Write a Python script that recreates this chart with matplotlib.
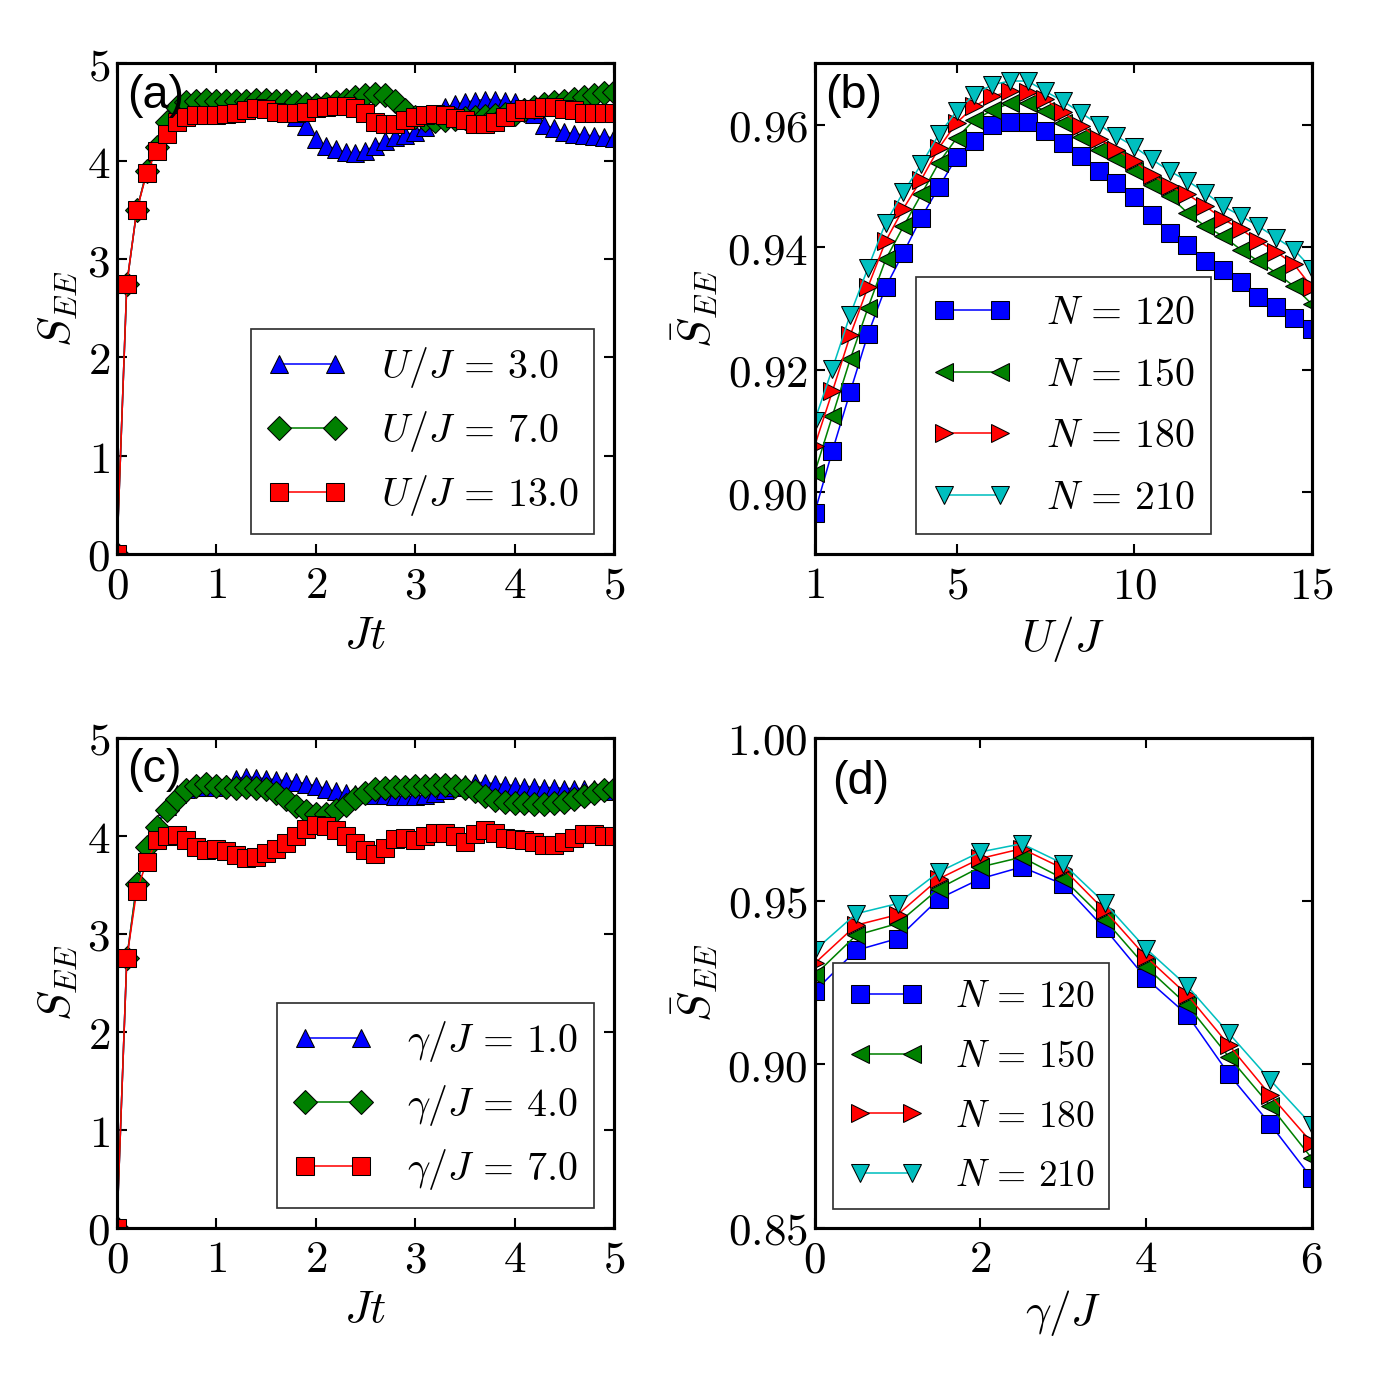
import numpy as np
from matplotlib import pyplot as plt
from matplotlib.ticker import FormatStrFormatter

plt.rcParams['mathtext.fontset'] = 'cm'
plt.rcParams['font.size'] = 26
plt.rcParams['axes.linewidth'] = 1.8
plt.rcParams['xtick.direction'] = 'in'
plt.rcParams['ytick.direction'] = 'in'
plt.rcParams['xtick.top'] = True
plt.rcParams['ytick.right'] = True
plt.rcParams['xtick.major.size'] = 6
plt.rcParams['ytick.major.size'] = 6
plt.rcParams['xtick.major.width'] = 1.2
plt.rcParams['ytick.major.width'] = 1.2
plt.rcParams['xtick.major.pad'] = 6
plt.rcParams['ytick.major.pad'] = 4

# (a) S_EE vs Jt for several U/J
t_a = np.round(np.arange(0, 5.01, 0.1), 1)
a_u3 = [0.0, 2.75, 3.50, 3.90, 4.15, 4.40, 4.55, 4.60, 4.62, 4.62, 4.61, 4.61, 4.61, 4.61, 4.62, 4.62,
        4.60, 4.55, 4.45, 4.36, 4.23, 4.16, 4.13, 4.09, 4.08, 4.11, 4.16, 4.21, 4.25, 4.27,
        4.30, 4.35, 4.45, 4.55, 4.58, 4.60, 4.62, 4.63, 4.63, 4.62, 4.60, 4.55, 4.48, 4.37,
        4.34, 4.30, 4.28, 4.27, 4.26, 4.25, 4.24]
a_u7 = [0.0, 2.75, 3.50, 3.90, 4.15, 4.40, 4.55, 4.60, 4.62, 4.63, 4.62, 4.62, 4.61, 4.62, 4.63, 4.63,
        4.62, 4.62, 4.60, 4.58, 4.57, 4.58, 4.60, 4.63, 4.66, 4.68, 4.69, 4.68, 4.62, 4.52,
        4.45, 4.42, 4.41, 4.42, 4.43, 4.44, 4.45, 4.46, 4.47, 4.48, 4.48, 4.52, 4.55, 4.58,
        4.60, 4.62, 4.64, 4.66, 4.68, 4.70, 4.71]
a_u13 = [0.0, 2.75, 3.50, 3.88, 4.11, 4.28, 4.40, 4.45, 4.47, 4.47, 4.47, 4.48, 4.49, 4.52, 4.54, 4.53,
         4.50, 4.49, 4.49, 4.50, 4.54, 4.55, 4.56, 4.56, 4.54, 4.49, 4.40, 4.38, 4.38, 4.42,
         4.45, 4.47, 4.48, 4.47, 4.44, 4.42, 4.38, 4.38, 4.40, 4.45, 4.50, 4.53, 4.53, 4.55,
         4.55, 4.53, 4.52, 4.49, 4.49, 4.49, 4.49]

# (b) mean S_EE vs U/J for several N
u_b = np.arange(1, 15.01, 0.5)
b_n120 = [0.8967, 0.9068, 0.9164, 0.9258, 0.9335, 0.9391, 0.9448, 0.9498, 0.9547, 0.9573,
          0.9600, 0.9604, 0.9604, 0.9589, 0.9570, 0.9549, 0.9524, 0.9504, 0.9482, 0.9452,
          0.9423, 0.9404, 0.9377, 0.9363, 0.9343, 0.9318, 0.9303, 0.9285, 0.9267]
b_n150 = [0.9032, 0.9125, 0.9217, 0.9301, 0.9380, 0.9434, 0.9486, 0.9538, 0.9578, 0.9608,
          0.9623, 0.9635, 0.9635, 0.9622, 0.9603, 0.9580, 0.9559, 0.9543, 0.9524, 0.9502,
          0.9483, 0.9456, 0.9434, 0.9418, 0.9396, 0.9377, 0.9358, 0.9336, 0.9307]
b_n180 = [0.9076, 0.9165, 0.9256, 0.9335, 0.9410, 0.9463, 0.9510, 0.9562, 0.9603, 0.9630,
          0.9646, 0.9654, 0.9653, 0.9641, 0.9620, 0.9598, 0.9577, 0.9559, 0.9540, 0.9518,
          0.9499, 0.9486, 0.9467, 0.9446, 0.9429, 0.9410, 0.9392, 0.9372, 0.9335]
b_n210 = [0.9117, 0.9202, 0.9290, 0.9366, 0.9440, 0.9490, 0.9535, 0.9584, 0.9622, 0.9649,
          0.9665, 0.9671, 0.9671, 0.9654, 0.9638, 0.9619, 0.9600, 0.9581, 0.9564, 0.9543,
          0.9524, 0.9508, 0.9489, 0.9467, 0.9451, 0.9434, 0.9415, 0.9396, 0.9365]

# (c) S_EE vs Jt for several gamma/J
t_c = np.round(np.arange(0, 5.01, 0.1), 1)
c_g1 = [0.0, 2.75, 3.50, 3.88, 4.10, 4.30, 4.42, 4.48, 4.50, 4.50, 4.50, 4.53, 4.58, 4.60, 4.59, 4.58,
        4.57, 4.56, 4.55, 4.53, 4.51, 4.48, 4.45, 4.43, 4.42, 4.42, 4.41, 4.41, 4.40, 4.40,
        4.40, 4.41, 4.43, 4.46, 4.50, 4.53, 4.54, 4.54, 4.53, 4.52, 4.51, 4.50, 4.50, 4.49,
        4.49, 4.48, 4.48, 4.48, 4.47, 4.46, 4.45]
c_g4 = [0.0, 2.75, 3.51, 3.88, 4.09, 4.26, 4.37, 4.46, 4.51, 4.53, 4.51, 4.50, 4.49, 4.50, 4.49, 4.47,
        4.43, 4.37, 4.30, 4.25, 4.22, 4.22, 4.26, 4.31, 4.38, 4.43, 4.47, 4.49, 4.50, 4.50,
        4.51, 4.51, 4.52, 4.52, 4.51, 4.49, 4.45, 4.40, 4.36, 4.34, 4.33, 4.33, 4.32, 4.32,
        4.33, 4.34, 4.37, 4.40, 4.43, 4.46, 4.48]
c_g7 = [0.0, 2.75, 3.44, 3.73, 3.95, 4.00, 4.01, 3.96, 3.88, 3.85, 3.86, 3.84, 3.80, 3.77, 3.78, 3.82,
        3.86, 3.92, 4.00, 4.07, 4.11, 4.10, 4.06, 4.00, 3.92, 3.85, 3.81, 3.87, 3.97, 3.98,
        3.95, 4.00, 4.03, 4.03, 4.00, 3.93, 4.02, 4.06, 4.03, 3.98, 3.97, 3.95, 3.93, 3.90,
        3.90, 3.93, 3.98, 4.02, 4.02, 4.00, 4.00]

# (d) mean S_EE vs gamma/J for several N
g_d = np.arange(0, 6.01, 0.5)
d_n120 = [0.9224, 0.9349, 0.9385, 0.9507, 0.9568, 0.9604, 0.9551, 0.9416, 0.9263, 0.9151, 0.8970, 0.8817, 0.8652]
d_n150 = [0.9273, 0.9395, 0.9431, 0.9538, 0.9604, 0.9634, 0.9568, 0.9443, 0.9298, 0.9181, 0.9023, 0.8873, 0.8713]
d_n180 = [0.9309, 0.9426, 0.9458, 0.9568, 0.9630, 0.9660, 0.9599, 0.9471, 0.9329, 0.9212, 0.9059, 0.8906, 0.8761]
d_n210 = [0.9349, 0.9461, 0.9492, 0.9589, 0.9650, 0.9675, 0.9614, 0.9494, 0.9354, 0.9239, 0.9095, 0.8952, 0.8815]

ms = 10
lw = 0.9
mew = 0.6


def style_legend(ax, loc, size=23, spacing=0.47):
    leg = ax.legend(loc=loc, numpoints=2, fontsize=size, fancybox=False, framealpha=1,
                    handlelength=2.0, labelspacing=spacing, borderpad=0.4, handletextpad=0.85,
                    borderaxespad=0.5)
    leg.get_frame().set_edgecolor('0.2')
    leg.get_frame().set_linewidth(1.0)
    return leg


fig, axes = plt.subplots(2, 2, figsize=(11, 11), dpi=125)
fig.subplots_adjust(left=0.085, right=0.954, top=0.954, bottom=0.107, wspace=0.404, hspace=0.375)
ax_a, ax_b = axes[0]
ax_c, ax_d = axes[1]

# panel (a)
ax_a.plot(t_a, a_u3, 'b-^', ms=ms, lw=lw, mew=mew, mec='k', label=r'$U/J\,=\,3.0$')
ax_a.plot(t_a, a_u7, 'g-D', ms=ms, lw=lw, mew=mew, mec='k', label=r'$U/J\,=\,7.0$')
ax_a.plot(t_a, a_u13, 'r-s', ms=ms, lw=lw, mew=mew, mec='k', label=r'$U/J\,=\,13.0$')
ax_a.set_xlim(0, 5)
ax_a.set_ylim(0, 5)
ax_a.set_xticks([0, 1, 2, 3, 4, 5])
ax_a.set_yticks([0, 1, 2, 3, 4, 5])
ax_a.xaxis.set_major_formatter(FormatStrFormatter('$%d$'))
ax_a.yaxis.set_major_formatter(FormatStrFormatter('$%d$'))
ax_a.set_xlabel(r'$Jt$')
ax_a.set_ylabel(r'$S_{EE}$')
style_legend(ax_a, 'lower right')
ax_a.text(0.02, 0.978, '(a)', transform=ax_a.transAxes, va='top', ha='left',
          family='Liberation Sans', fontsize=27)

# panel (b)
ax_b.plot(u_b, b_n120, 'b-s', ms=ms, lw=lw, mew=mew, mec='k', label=r'$N\,=\,120$')
ax_b.plot(u_b, b_n150, 'g-<', ms=ms, lw=lw, mew=mew, mec='k', label=r'$N\,=\,150$')
ax_b.plot(u_b, b_n180, 'r->', ms=ms, lw=lw, mew=mew, mec='k', label=r'$N\,=\,180$')
ax_b.plot(u_b, b_n210, 'c-v', ms=ms, lw=lw, mew=mew, mec='k', label=r'$N\,=\,210$')
ax_b.set_xlim(1, 15)
ax_b.set_ylim(0.89, 0.97)
ax_b.set_xticks([1, 5, 10, 15])
ax_b.set_yticks([0.90, 0.92, 0.94, 0.96])
ax_b.xaxis.set_major_formatter(FormatStrFormatter('$%d$'))
ax_b.yaxis.set_major_formatter(FormatStrFormatter('$%.2f$'))
ax_b.set_xlabel(r'$U/J$')
ax_b.set_ylabel(r'$\bar{S}_{EE}$')
style_legend(ax_b, 'lower center', spacing=0.54)
ax_b.text(0.02, 0.978, '(b)', transform=ax_b.transAxes, va='top', ha='left',
          family='Liberation Sans', fontsize=27)

# panel (c)
ax_c.plot(t_c, c_g1, 'b-^', ms=ms, lw=lw, mew=mew, mec='k', label=r'$\gamma/J\,=\,1.0$')
ax_c.plot(t_c, c_g4, 'g-D', ms=ms, lw=lw, mew=mew, mec='k', label=r'$\gamma/J\,=\,4.0$')
ax_c.plot(t_c, c_g7, 'r-s', ms=ms, lw=lw, mew=mew, mec='k', label=r'$\gamma/J\,=\,7.0$')
ax_c.set_xlim(0, 5)
ax_c.set_ylim(0, 5)
ax_c.set_xticks([0, 1, 2, 3, 4, 5])
ax_c.set_yticks([0, 1, 2, 3, 4, 5])
ax_c.xaxis.set_major_formatter(FormatStrFormatter('$%d$'))
ax_c.yaxis.set_major_formatter(FormatStrFormatter('$%d$'))
ax_c.set_xlabel(r'$Jt$')
ax_c.set_ylabel(r'$S_{EE}$')
style_legend(ax_c, 'lower right')
ax_c.text(0.02, 0.978, '(c)', transform=ax_c.transAxes, va='top', ha='left',
          family='Liberation Sans', fontsize=27)

# panel (d)
ax_d.plot(g_d, d_n120, 'b-s', ms=ms, lw=lw, mew=mew, mec='k', label=r'$N\,=\,120$')
ax_d.plot(g_d, d_n150, 'g-<', ms=ms, lw=lw, mew=mew, mec='k', label=r'$N\,=\,150$')
ax_d.plot(g_d, d_n180, 'r->', ms=ms, lw=lw, mew=mew, mec='k', label=r'$N\,=\,180$')
ax_d.plot(g_d, d_n210, 'c-v', ms=ms, lw=lw, mew=mew, mec='k', label=r'$N\,=\,210$')
ax_d.set_xlim(0, 6)
ax_d.set_ylim(0.85, 1.00)
ax_d.set_xticks([0, 2, 4, 6])
ax_d.set_yticks([0.85, 0.90, 0.95, 1.00])
ax_d.xaxis.set_major_formatter(FormatStrFormatter('$%d$'))
ax_d.yaxis.set_major_formatter(FormatStrFormatter('$%.2f$'))
ax_d.set_xlabel(r'$\gamma/J$')
ax_d.set_ylabel(r'$\bar{S}_{EE}$')
style_legend(ax_d, 'lower left', size=21.5, spacing=0.61)
ax_d.text(0.035, 0.955, '(d)', transform=ax_d.transAxes, va='top', ha='left',
          family='Liberation Sans', fontsize=27)

fig.savefig('out.png', dpi=125, facecolor='white')
